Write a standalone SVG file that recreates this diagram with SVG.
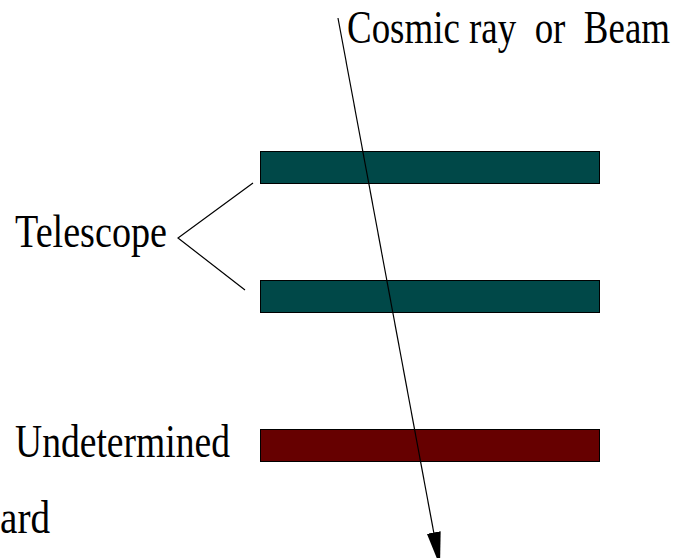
<svg xmlns="http://www.w3.org/2000/svg" width="679" height="558" viewBox="0 0 679 558">
<style>
.t{font-family:"Liberation Serif","Times New Roman",serif;font-size:47px;fill:#000;white-space:pre}
.ln{stroke:#000;stroke-width:1.2;fill:none}
.bar{stroke:#000;stroke-width:1}
</style>
<defs>
<marker id="ah" markerWidth="34" markerHeight="14" refX="34" refY="7" orient="auto" markerUnits="userSpaceOnUse" viewBox="0 0 34 14">
<path d="M0,0 L34,7 L0,14 Z" fill="#000"/>
</marker>
</defs>
<rect width="679" height="558" fill="#fff"/>
<g id="bar1"><rect class="bar" x="260.5" y="151.5" width="339" height="32" fill="#004848"/></g>
<g id="bar2"><rect class="bar" x="260.5" y="280.5" width="339" height="32" fill="#004848"/></g>
<g id="bar3"><rect class="bar" x="260.5" y="429.5" width="339" height="32" fill="#660000"/></g>
<g id="labels">
<text class="t" x="347" y="43" textLength="323" lengthAdjust="spacingAndGlyphs" xml:space="preserve">Cosmic ray  or  Beam</text>
<text class="t" x="15" y="247" textLength="152" lengthAdjust="spacingAndGlyphs">Telescope</text>
<text class="t" x="15" y="457" textLength="215" lengthAdjust="spacingAndGlyphs">Undetermined</text>
<text class="t" x="0" y="533" textLength="50" lengthAdjust="spacingAndGlyphs">ard</text>
</g>
<g id="connectors">
<polyline class="ln" points="253,183 178,238 245,290"/>
<line class="ln" x1="338" y1="18" x2="440" y2="566" marker-end="url(#ah)"/>
</g>
</svg>
